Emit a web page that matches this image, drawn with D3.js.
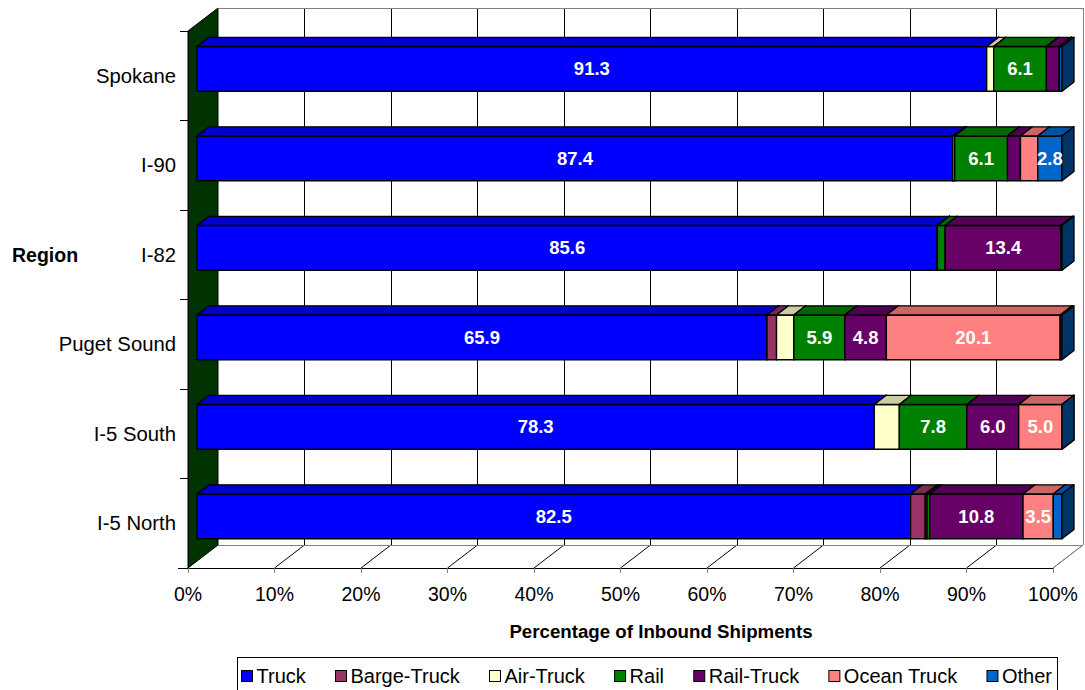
<!DOCTYPE html>
<html><head><meta charset="utf-8">
<script src="https://cdn.jsdelivr.net/npm/d3@7"></script>
<style>
html,body{margin:0;padding:0;background:#fff;}
text{font-family:Arial,"Liberation Sans",sans-serif;}
</style></head>
<body><svg id="c" width="1085" height="690"></svg>
<script>
const categories = ["Spokane","I-90","I-82","Puget Sound","I-5 South","I-5 North"];
const seriesNames = ["Truck","Barge-Truck","Air-Truck","Rail","Rail-Truck","Ocean Truck","Other"];
const truck      = [91.3, 87.4, 85.6, 65.9, 78.3, 82.5];
const bargeTruck = [0.0, 0.0, 0.0, 1.1, 0.0, 1.7];
const airTruck   = [0.8, 0.2, 0.0, 2.0, 2.9, 0.2];
const rail       = [6.1, 6.1, 0.9, 5.9, 7.8, 0.3];
const railTruck  = [1.5, 1.5, 13.4, 4.8, 6.0, 10.8];
const oceanTruck = [0.0, 2.0, 0.0, 20.1, 5.0, 3.5];
const other      = [0.3, 2.8, 0.1, 0.2, 0.0, 1.0];
const xTicks = [0,10,20,30,40,50,60,70,80,90,100];
const labeledSeries = ["Truck","Rail","Rail-Truck","Ocean Truck","Other"];
const colors = ["#0000FF","#993366","#FFFFCC","#008000","#660066","#FF8080","#0066CC"];

(function(){
const seriesValues = [truck,bargeTruck,airTruck,rail,railTruck,oceanTruck,other];
const table = categories.map((c,i)=>{
  const o={category:c};
  seriesNames.forEach((s,j)=>o[s]=seriesValues[j][i]);
  return o;
});
const stacked = d3.stack().keys(seriesNames)(table);

const svg = d3.select("#c");
const x = d3.scaleLinear().domain([0,100]).range([188,1053]);
const y = d3.scaleBand().domain(categories).range([31,568]);
const DX = 30, DY = -23;          // full depth offset
const b0 = 0.3, b1 = 0.7;          // bar depth fraction
const barH = y.bandwidth()*0.5;

const shade = (c,k)=>{const r=d3.rgb(c);return d3.rgb(r.r*k,r.g*k,r.b*k).formatHex();};
const poly = pts => "M"+pts.map(p=>p.join(",")).join("L")+"Z";

const yA = y.range()[0], yB = y.range()[1];
const x0 = x(0), x1 = x(100);

// left wall
svg.append("path").attr("d",poly([[x0,yA],[x0+DX,yA+DY],[x0+DX,yB+DY],[x0,yB]]))
  .attr("fill","#003300").attr("stroke","#000").attr("stroke-width",1);

// back wall gridlines + floor lines
const grid = svg.append("g");
xTicks.forEach(t=>{
  if(t===0) return;
  grid.append("line").attr("x1",x(t)+DX).attr("x2",x(t)+DX).attr("y1",yA+DY).attr("y2",yB+DY)
    .attr("stroke",t===100?"#808080":"#000").attr("stroke-width",1).attr("shape-rendering","crispEdges");
  grid.append("line").attr("x1",x(t)).attr("y1",yB).attr("x2",x(t)+DX).attr("y2",yB+DY)
    .attr("stroke",t===100?"#808080":"#000").attr("stroke-width",1);
});
svg.append("line").attr("x1",x0+DX).attr("x2",x1+DX).attr("y1",yA+DY).attr("y2",yA+DY)
  .attr("stroke","#808080").attr("shape-rendering","crispEdges");
svg.append("line").attr("x1",x0+DX).attr("x2",x1+DX).attr("y1",yB+DY).attr("y2",yB+DY)
  .attr("stroke","#808080").attr("shape-rendering","crispEdges");

// bars
const bars = svg.append("g");
const labels = [];
categories.forEach((c,i)=>{
  const cy = y(c)+y.bandwidth()/2 + b0*DY;
  const yt = cy - barH/2, yb = cy + barH/2;
  const fx = b0*DX, bdx = (b1-b0)*DX, bdy = (b1-b0)*DY;
  stacked.forEach((s,j)=>{
    const d = s[i];
    const xa = x(d[0])+fx, xb = x(d[1])+fx;
    const col = colors[j];
    const g = bars.append("g").attr("stroke","#000").attr("stroke-width",1.3).attr("stroke-linejoin","round");
    g.append("path").attr("d",poly([[xa,yt],[xb,yt],[xb,yb],[xa,yb]])).attr("fill",col);
    g.append("path").attr("d",poly([[xa,yt],[xa+bdx,yt+bdy],[xb+bdx,yt+bdy],[xb,yt]])).attr("fill",shade(col,0.8));
    g.append("path").attr("d",poly([[xb,yt],[xb+bdx,yt+bdy],[xb+bdx,yb+bdy],[xb,yb]])).attr("fill",shade(col,0.5));
    const v = d[1]-d[0];
    if(labeledSeries.includes(s.key) && v>=2.5){
      labels.push({x:(xa+xb)/2, y:cy+6.5, t:v.toFixed(1)});
    }
  });
});
svg.append("g").selectAll("text").data(labels).join("text")
  .attr("x",d=>d.x).attr("y",d=>d.y).attr("text-anchor","middle")
  .attr("fill","#fff").attr("font-weight","bold").attr("font-size","18.5px").text(d=>d.t);

// axes
const ax = svg.append("g");
ax.append("line").attr("x1",x0).attr("x2",x0).attr("y1",yA).attr("y2",yB).attr("stroke","#000").attr("shape-rendering","crispEdges");
ax.append("line").attr("x1",x0-10).attr("x2",x1).attr("y1",yB).attr("y2",yB).attr("stroke","#000").attr("shape-rendering","crispEdges");
ax.append("line").attr("x1",x1).attr("y1",yB).attr("x2",x1+DX).attr("y2",yB+DY).attr("stroke","#808080");
categories.forEach(c=>{
  ax.append("line").attr("x1",x0-8).attr("x2",x0).attr("y1",y(c)).attr("y2",y(c)).attr("stroke","#000").attr("shape-rendering","crispEdges");
});
xTicks.forEach(t=>{
  ax.append("line").attr("x1",x(t)).attr("x2",x(t)).attr("y1",yB).attr("y2",yB+5).attr("stroke","#808080").attr("shape-rendering","crispEdges");
});
ax.selectAll("text.xt").data(xTicks).join("text").attr("class","xt")
  .attr("x",d=>x(d)).attr("y",601).attr("text-anchor","middle").attr("font-size","19.5px").attr("fill","#000")
  .text(d=>d+"%");
ax.selectAll("text.yt").data(categories).join("text").attr("class","yt")
  .attr("x",176).attr("y",d=>y(d)+y.bandwidth()/2+7).attr("text-anchor","end").attr("font-size","20.3px").attr("fill","#000")
  .text(d=>d);

svg.append("text").attr("x",12).attr("y",y("I-82")+y.bandwidth()/2+7).attr("font-weight","bold").attr("font-size","19.5px").text("Region");
svg.append("text").attr("x",661).attr("y",638).attr("text-anchor","middle").attr("font-weight","bold").attr("font-size","18.7px").text("Percentage of Inbound Shipments");

// legend
const lg = svg.append("g");
lg.append("rect").attr("x",237.5).attr("y",657.5).attr("width",820).attr("height",40).attr("fill","#fff").attr("stroke","#000");
const items = lg.selectAll("g.it").data(seriesNames).join("g").attr("class","it");
items.append("rect").attr("width",11).attr("height",11).attr("y",670.5).attr("fill",(d,i)=>colors[i]).attr("stroke","#000");
items.append("text").attr("x",15).attr("y",683).attr("font-size","20px").text(d=>d);
const widths = items.select("text").nodes().map(n=>n.getComputedTextLength()+15);
const startX = 241.5, endX = 1052;
const gap = (endX-startX-d3.sum(widths))/(widths.length-1);
let cx = startX;
items.each(function(d,i){ d3.select(this).attr("transform",`translate(${cx},0)`); cx += widths[i]+gap; });
})();
</script></body></html>
